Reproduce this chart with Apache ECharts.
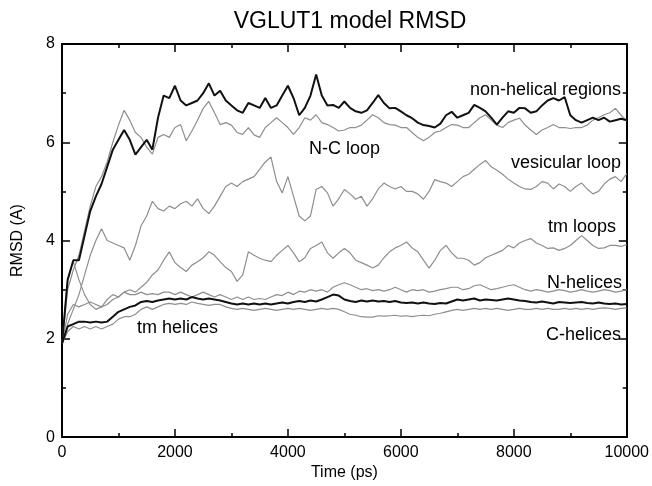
<!DOCTYPE html>
<html>
<head>
<meta charset="utf-8">
<script src="https://cdn.jsdelivr.net/npm/echarts@6/dist/echarts.min.js"></script>
<style>html,body{margin:0;padding:0;background:#fff}#c{width:652px;height:486px}</style>
</head>
<body>
<div id="c"></div>
<script>
const timePs = [0,100,200,300,400,500,600,700,800,900,1000,1100,1200,1300,1400,1500,1600,1700,1800,1900,2000,2100,2200,2300,2400,2500,2600,2700,2800,2900,3000,3100,3200,3300,3400,3500,3600,3700,3800,3900,4000,4100,4200,4300,4400,4500,4600,4700,4800,4900,5000,5100,5200,5300,5400,5500,5600,5700,5800,5900,6000,6100,6200,6300,6400,6500,6600,6700,6800,6900,7000,7100,7200,7300,7400,7500,7600,7700,7800,7900,8000,8100,8200,8300,8400,8500,8600,8700,8800,8900,9000,9100,9200,9300,9400,9500,9600,9700,9800,9900,10000];

const nonHelical = [1.9,3.2,3.6,3.6,4.1,4.6,4.9,5.15,5.5,5.85,6.05,6.25,6.05,5.75,5.9,6.05,5.85,6.5,6.95,6.9,7.15,6.85,6.75,6.8,6.85,7.0,7.2,6.95,7.05,6.85,6.75,6.65,6.6,6.8,6.75,6.7,6.9,6.7,6.75,6.95,7.15,6.9,6.55,6.7,6.95,7.38,6.95,6.75,6.76,6.7,6.83,6.7,6.63,6.6,6.65,6.8,6.96,6.8,6.69,6.7,6.63,6.55,6.49,6.4,6.35,6.33,6.3,6.38,6.55,6.62,6.5,6.55,6.6,6.76,6.7,6.63,6.5,6.36,6.5,6.63,6.6,6.7,6.69,6.6,6.63,6.75,6.85,6.9,6.85,6.92,6.55,6.45,6.4,6.45,6.5,6.45,6.5,6.42,6.45,6.48,6.45];

const ncLoop = [1.9,3.0,3.4,3.7,4.2,4.7,5.1,5.3,5.6,6.0,6.35,6.65,6.45,6.2,6.1,5.9,5.76,6.1,6.16,6.1,6.3,6.36,6.03,6.23,6.45,6.69,6.83,6.6,6.36,6.4,6.35,6.2,6.16,6.3,6.15,6.1,6.3,6.4,6.5,6.4,6.3,6.16,6.3,6.5,6.45,6.56,6.4,6.36,6.3,6.23,6.25,6.3,6.3,6.35,6.45,6.56,6.5,6.4,6.36,6.35,6.3,6.3,6.2,6.1,6.03,6.1,6.2,6.23,6.3,6.36,6.35,6.3,6.3,6.4,6.5,6.56,6.45,6.35,6.3,6.4,6.45,6.49,6.35,6.25,6.16,6.25,6.3,6.36,6.3,6.3,6.28,6.3,6.3,6.35,6.45,6.5,6.56,6.6,6.69,6.55,6.43];

const vesicularLoop = [1.9,2.3,2.6,2.9,3.3,3.7,4.0,4.24,4.0,3.95,3.9,3.85,3.6,3.9,4.3,4.5,4.8,4.65,4.6,4.7,4.65,4.75,4.8,4.7,4.85,4.65,4.55,4.7,4.9,5.1,5.17,5.1,5.2,5.25,5.3,5.45,5.6,5.7,5.2,4.97,5.3,4.9,4.5,4.4,4.5,5.04,5.1,4.97,4.7,4.85,5.04,4.95,4.84,4.9,4.7,4.85,5.05,5.17,5.1,5.05,5.1,5.0,5.0,4.95,4.84,5.0,5.24,5.2,5.17,5.1,5.2,5.3,5.35,5.45,5.55,5.63,5.5,5.43,5.35,5.25,5.17,5.1,5.05,5.04,5.1,5.2,5.17,5.05,5.15,5.1,5.0,5.1,5.17,5.05,4.95,5.0,5.15,5.25,5.3,5.2,5.36];

const tmLoops = [1.9,3.2,3.57,3.2,2.9,2.7,2.6,2.65,2.8,2.9,2.85,2.95,3.0,2.95,3.05,3.15,3.3,3.4,3.6,3.77,3.55,3.45,3.37,3.5,3.57,3.65,3.77,3.7,3.57,3.45,3.37,3.17,3.3,3.77,3.7,3.64,3.6,3.57,3.7,3.8,3.9,3.75,3.57,3.65,3.84,3.9,3.97,3.75,3.64,3.75,3.84,3.75,3.6,3.55,3.5,3.44,3.5,3.65,3.77,3.85,3.9,3.97,3.85,3.77,3.6,3.44,3.6,3.8,3.9,3.75,3.64,3.64,3.6,3.5,3.55,3.65,3.7,3.75,3.8,3.9,3.85,3.95,4.0,4.04,3.95,3.9,3.84,3.85,3.8,3.84,3.9,4.0,4.1,4.0,3.9,3.84,3.85,3.9,3.9,3.88,3.92];

const nHelices = [1.9,2.5,2.7,2.65,2.7,2.75,2.7,2.65,2.7,2.8,2.85,2.95,2.9,2.9,2.95,2.9,2.92,2.9,2.95,2.95,2.9,2.95,2.9,2.85,2.9,2.95,2.9,2.85,2.9,2.85,2.8,2.85,2.8,2.85,2.8,2.82,2.8,2.85,2.9,2.88,2.95,2.9,2.97,2.95,3.0,2.97,3.0,2.95,3.05,3.1,3.14,3.1,3.05,3.0,3.02,2.98,3.0,2.97,3.0,3.05,3.0,2.95,3.0,2.98,3.0,2.95,2.97,3.0,3.02,3.05,3.05,3.0,3.02,3.08,3.1,3.05,3.0,3.02,3.05,3.08,3.1,3.05,3.0,2.97,3.0,2.98,2.95,2.97,3.0,2.98,2.95,2.97,3.0,2.97,2.95,2.97,3.0,2.98,2.95,2.97,3.0];

const cHelices = [1.9,2.15,2.25,2.2,2.25,2.2,2.25,2.2,2.25,2.3,2.4,2.45,2.45,2.5,2.6,2.65,2.6,2.65,2.7,2.72,2.7,2.72,2.7,2.75,2.72,2.7,2.68,2.7,2.7,2.65,2.62,2.6,2.62,2.6,2.58,2.6,2.62,2.6,2.58,2.6,2.62,2.6,2.62,2.6,2.58,2.6,2.62,2.6,2.62,2.6,2.55,2.5,2.48,2.45,2.44,2.44,2.47,2.46,2.47,2.48,2.46,2.47,2.45,2.47,2.48,2.47,2.5,2.52,2.55,2.58,2.6,2.58,2.6,2.62,2.6,2.62,2.6,2.62,2.6,2.58,2.6,2.62,2.6,2.6,2.62,2.6,2.62,2.6,2.6,2.62,2.6,2.62,2.6,2.62,2.6,2.62,2.63,2.62,2.6,2.62,2.63];

const tmHelices = [1.9,2.25,2.3,2.35,2.35,2.33,2.35,2.33,2.35,2.45,2.55,2.6,2.65,2.68,2.75,2.77,2.75,2.78,2.8,2.82,2.8,2.82,2.8,2.85,2.82,2.8,2.82,2.8,2.78,2.75,2.72,2.7,2.72,2.7,2.72,2.7,2.72,2.7,2.72,2.74,2.72,2.75,2.77,2.75,2.78,2.76,2.8,2.85,2.9,2.88,2.8,2.77,2.75,2.78,2.76,2.78,2.76,2.77,2.75,2.77,2.74,2.73,2.74,2.72,2.74,2.72,2.71,2.73,2.72,2.76,2.8,2.78,2.8,2.82,2.78,2.8,2.79,2.78,2.8,2.82,2.8,2.78,2.77,2.75,2.74,2.76,2.74,2.72,2.75,2.74,2.73,2.74,2.75,2.73,2.72,2.74,2.72,2.71,2.72,2.7,2.71];

const xTicks = [0,2000,4000,6000,8000,10000];
const yTicks = [0,2,4,6,8];

const FONT = '"Liberation Sans", Arial, Helvetica, sans-serif';
const GRAY = '#8e8e8e';
function pairs(vals){ return timePs.map((t,i)=>[t, vals[i]]); }

const chart = echarts.init(document.getElementById('c'), null, {renderer:'canvas'});

const axisCommon = {
  axisLine:{show:true, onZero:false, lineStyle:{color:'#000', width:2}},
  axisTick:{show:true, inside:true, length:8, lineStyle:{color:'#000', width:1.5}},
  minorTick:{show:true, splitNumber:2, length:4, lineStyle:{color:'#000', width:1.5}},
  splitLine:{show:false},
};

const option = {
  animation:false,
  backgroundColor:'#fff',
  title:{
    text:'VGLUT1 model RMSD', left:345, top:5, textAlign:'center',
    textStyle:{fontFamily:FONT, fontSize:23, fontWeight:'normal', color:'#000'}
  },
  grid:{left:62, right:24, top:44, bottom:40, containLabel:false},
  xAxis:[
    Object.assign({
      type:'value', min:0, max:10000, interval:2000, position:'bottom',
      name:'Time (ps)', nameLocation:'middle', nameGap:25,
      nameTextStyle:{fontFamily:FONT, fontSize:16, color:'#000'},
      axisLabel:{show:true, margin:7, fontFamily:FONT, fontSize:16, color:'#000',
        formatter:(v)=> xTicks.includes(v) ? String(v) : ''}
    }, axisCommon),
    Object.assign({
      type:'value', min:0, max:10000, interval:2000, position:'top',
      axisLabel:{show:false}
    }, axisCommon)
  ],
  yAxis:[
    Object.assign({
      type:'value', min:0, max:8, interval:2, position:'left',
      name:'RMSD (A)', nameLocation:'middle', nameGap:36, nameRotate:90,
      nameTextStyle:{fontFamily:FONT, fontSize:16, color:'#000'},
      axisLabel:{show:true, margin:7, fontFamily:FONT, fontSize:16, color:'#000',
        formatter:(v)=> yTicks.includes(v) ? String(v) : ''}
    }, axisCommon),
    Object.assign({
      type:'value', min:0, max:8, interval:2, position:'right',
      axisLabel:{show:false}
    }, axisCommon)
  ],
  series:[
    {name:'N-C loop', data:pairs(ncLoop), color:GRAY, lineStyle:{width:1.2, color:GRAY}},
    {name:'vesicular loop', data:pairs(vesicularLoop), color:GRAY, lineStyle:{width:1.2, color:GRAY}},
    {name:'tm loops', data:pairs(tmLoops), color:GRAY, lineStyle:{width:1.2, color:GRAY}},
    {name:'N-helices', data:pairs(nHelices), color:GRAY, lineStyle:{width:1.2, color:GRAY}},
    {name:'C-helices', data:pairs(cHelices), color:GRAY, lineStyle:{width:1.2, color:GRAY}},
    {name:'tm helices', data:pairs(tmHelices), color:'#000', lineStyle:{width:2, color:'#111'}},
    {name:'non-helical regions', data:pairs(nonHelical), color:'#000', lineStyle:{width:2, color:'#111'}}
  ].map(s => Object.assign({type:'line', showSymbol:false, symbol:'none', xAxisIndex:0, yAxisIndex:0, z:3}, s)),
  graphic:[
    {type:'text', x:621, y:90, style:{text:'non-helical regions', textAlign:'right', textVerticalAlign:'middle', font:'18px '+FONT, fill:'#000'}},
    {type:'text', x:309, y:149, style:{text:'N-C loop', textAlign:'left', textVerticalAlign:'middle', font:'18px '+FONT, fill:'#000'}},
    {type:'text', x:621, y:163, style:{text:'vesicular loop', textAlign:'right', textVerticalAlign:'middle', font:'18px '+FONT, fill:'#000'}},
    {type:'text', x:616, y:227, style:{text:'tm loops', textAlign:'right', textVerticalAlign:'middle', font:'18px '+FONT, fill:'#000'}},
    {type:'text', x:622, y:283, style:{text:'N-helices', textAlign:'right', textVerticalAlign:'middle', font:'18px '+FONT, fill:'#000'}},
    {type:'text', x:621, y:335, style:{text:'C-helices', textAlign:'right', textVerticalAlign:'middle', font:'18px '+FONT, fill:'#000'}},
    {type:'text', x:137, y:328, style:{text:'tm helices', textAlign:'left', textVerticalAlign:'middle', font:'18px '+FONT, fill:'#000'}}
  ]
};
chart.setOption(option);
</script>
</body>
</html>
